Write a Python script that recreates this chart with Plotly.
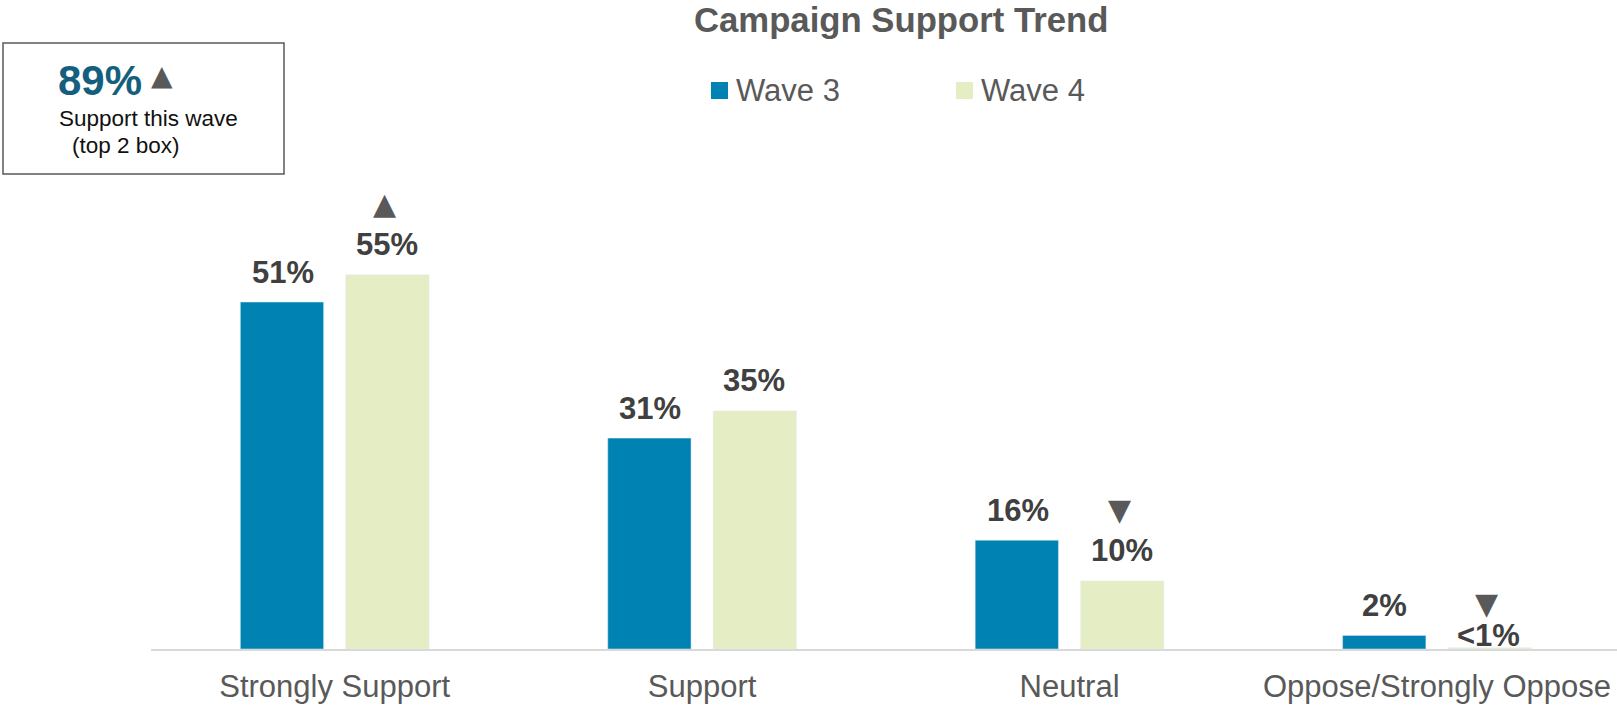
import plotly.graph_objects as go

# ---- data -------------------------------------------------------------
categories = ["Strongly Support", "Support", "Neutral", "Oppose/Strongly Oppose"]
wave3 = [51, 31, 16, 2]
wave4 = [55, 35, 10, 0.2]
wave3_labels = ["51%", "31%", "16%", "2%"]
wave4_labels = ["55%", "35%", "10%", "<1%"]
wave4_trend = ["up", None, "down", "down"]   # significance vs previous wave
series_names = ["Wave 3", "Wave 4"]
top2_value = "89%"
top2_trend = "up"
top2_caption = ["Support this wave", "(top 2 box)"]

# ---- layout constants ---------------------------------------------------
W, H = 1617, 710
ML, MR, MT, MB = 151, 0, 0, 61
PW, PH = W - ML - MR, H - MT - MB

C_W3 = "#0083B3"
C_W4 = "#E4EDC4"
C_TXT = "#595959"
C_LBL = "#404040"
FONT = "Liberation Sans, Arial, sans-serif"
TRI_FONT = "DejaVu Sans, sans-serif"
ARROWS = {"up": "▲", "down": "▼"}


def px_x(p):
    return (p - ML) / PW


def px_y(p):
    return 1 - (p - MT) / PH


fig = go.Figure()
for name, vals, col in zip(series_names, (wave3, wave4), (C_W3, C_W4)):
    fig.add_trace(go.Bar(name=name, x=categories, y=vals, marker_color=col,
                         hoverinfo="x+y", showlegend=False))

annotations = []
BAR_SHIFT = 52  # pixel offset of each bar from the category centre
LABEL_LIFT = 30
for vals, labels, shift in ((wave3, wave3_labels, -BAR_SHIFT),
                            (wave4, wave4_labels, BAR_SHIFT)):
    for cat, v, lab in zip(categories, vals, labels):
        big = v >= 1
        annotations.append(dict(
            x=cat, y=v if big else 0, xref="x", yref="y", text=f"<b>{lab}</b>",
            showarrow=False, xshift=shift, yshift=LABEL_LIFT if big else 14,
            yanchor="middle", font=dict(family=FONT, size=31, color=C_LBL)))

for cat, v, trend in zip(categories, wave4, wave4_trend):
    if trend is None:
        continue
    big = v >= 1
    annotations.append(dict(
        x=cat, y=v if big else 0, xref="x", yref="y",
        text=ARROWS[trend], showarrow=False,
        xshift=BAR_SHIFT - 2, yshift=(LABEL_LIFT + 41) if big else (14 + 32),
        yanchor="middle", font=dict(family=TRI_FONT, size=30, color=C_TXT)))

# title
annotations.append(dict(
    x=px_x(901), y=px_y(20), xref="paper", yref="paper",
    text="<b>Campaign Support Trend</b>", showarrow=False,
    xanchor="center", yanchor="middle",
    font=dict(family=FONT, size=34.7, color=C_TXT)))

# legend (coloured squares + labels)
shapes = []
for name, col, sx in zip(series_names, (C_W3, C_W4), (711, 956)):
    shapes.append(dict(type="rect", xref="paper", yref="paper",
                       x0=px_x(sx), x1=px_x(sx + 17), y0=px_y(99), y1=px_y(82),
                       line=dict(width=0), fillcolor=col))
    annotations.append(dict(
        x=px_x(sx + 23), y=px_y(91), xref="paper", yref="paper",
        text=name, showarrow=False, xanchor="left", yanchor="middle",
        font=dict(family=FONT, size=31, color=C_TXT)))

# headline callout box
annotations.append(dict(
    x=px_x(56), y=px_y(80), xref="paper", yref="paper",
    text=f"<b>{top2_value}</b>", showarrow=False, xanchor="left", yanchor="middle",
    font=dict(family=FONT, size=42, color="#155F7E")))
annotations.append(dict(
    x=px_x(162), y=px_y(75), xref="paper", yref="paper",
    text=ARROWS[top2_trend], showarrow=False, xanchor="center", yanchor="middle",
    font=dict(family=TRI_FONT, size=28, color=C_TXT)))
annotations.append(dict(
    x=px_x(57), y=px_y(119), xref="paper", yref="paper",
    text=top2_caption[0], showarrow=False, xanchor="left", yanchor="middle",
    font=dict(family=FONT, size=22.5, color="#111111")))
annotations.append(dict(
    x=px_x(70), y=px_y(146), xref="paper", yref="paper",
    text=top2_caption[1], showarrow=False, xanchor="left", yanchor="middle",
    font=dict(family=FONT, size=22.5, color="#111111")))

shapes.append(dict(type="rect", xref="paper", yref="paper",
                   x0=px_x(3), x1=px_x(284), y0=px_y(174), y1=px_y(43),
                   line=dict(color=C_TXT, width=1.5), fillcolor="rgba(0,0,0,0)"))

fig.update_layout(
    width=W, height=H, autosize=False,
    margin=dict(l=ML, r=MR, t=MT, b=MB, pad=0),
    paper_bgcolor="white", plot_bgcolor="white",
    barmode="group", bargap=0.426, bargroupgap=0.21,
    showlegend=False,
    xaxis=dict(range=[-0.5, 3.49], showgrid=False, zeroline=False,
               showline=True, linecolor="#D9D9D9", linewidth=1.5,
               ticks="", tickfont=dict(family=FONT, size=31, color=C_TXT),
               ticklabelstandoff=9, fixedrange=True),
    yaxis=dict(range=[0, 95.4], visible=False, fixedrange=True),
    annotations=annotations,
    shapes=shapes,
)

fig.write_html("out.html", config={"displayModeBar": False})
